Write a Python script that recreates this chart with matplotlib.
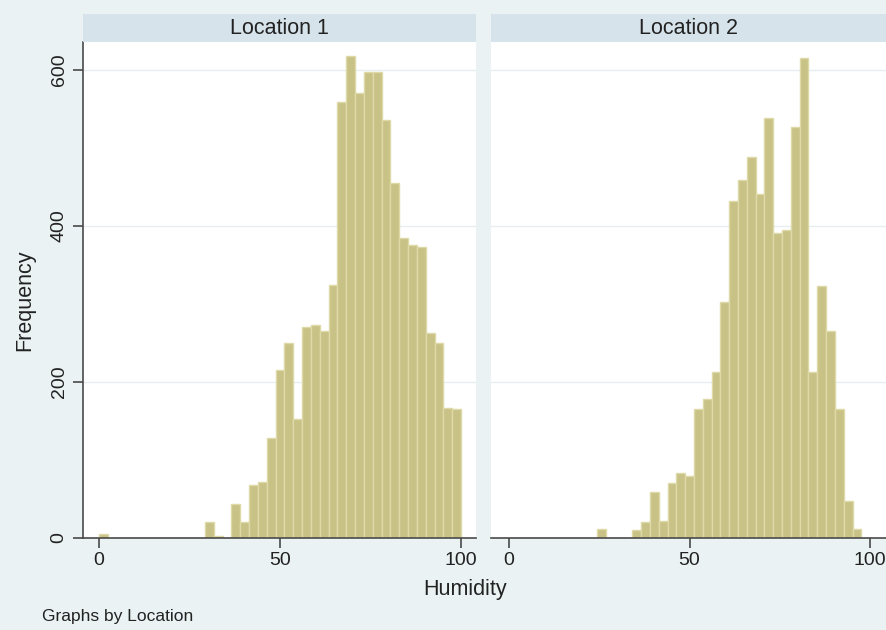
import numpy as np
import matplotlib
matplotlib.use("Agg")
import matplotlib.pyplot as plt

plt.rcParams['font.family'] = ['Liberation Sans', 'DejaVu Sans']

# histogram counts per bin, 41 equal bins over 0..100 humidity
bin_lo, bin_hi, n_bins = 0, 100, 41
loc1_counts = [5, 0, 0, 0, 0, 0, 0, 0, 0, 0,
               0, 0, 20, 3, 0, 43, 20, 68, 72, 128,
               215, 250, 153, 270, 273, 266, 325, 559, 618, 571,
               598, 598, 536, 455, 385, 376, 373, 263, 250, 167,
               165]
loc2_counts = [0, 0, 0, 0, 0, 0, 0, 0, 0, 0,
               11, 0, 0, 0, 10, 21, 59, 22, 70, 83,
               79, 166, 178, 213, 303, 432, 459, 488, 441, 539,
               391, 395, 527, 616, 213, 323, 265, 165, 47, 11,
               0]
panel_titles = ["Location 1", "Location 2"]
x_ticks = [0, 50, 100]
y_ticks = [0, 200, 400, 600]

bg = '#EAF2F3'
strip_col = '#D6E3EA'
bar_fill = '#C9C286'
bar_edge = '#DEDAA8'
axis_col = '#4A4A4A'

edges = np.linspace(bin_lo, bin_hi, n_bins + 1)
width = edges[1] - edges[0]

fig = plt.figure(figsize=(8.86, 6.3), dpi=100, facecolor=bg)

W, H = 886, 630
def frac(x0, y0, x1, y1):
    return [x0 / W, 1 - y1 / H, (x1 - x0) / W, (y1 - y0) / H]

panels = [
    (loc1_counts, frac(83, 42, 476, 538), frac(83, 14, 476, 42), (-4.4, 104.1)),
    (loc2_counts, frac(491, 42, 886, 538), frac(491, 14, 886, 42), (-5.0, 104.4)),
]

for i, (counts, pos, spos, xl) in enumerate(panels):
    ax = fig.add_axes(pos)
    ax.set_facecolor('white')
    ax.bar(edges[:-1], counts, width=width, align='edge',
           color=bar_fill, edgecolor=bar_edge, linewidth=1.0, zorder=2)
    ax.set_xlim(*xl)
    ax.set_ylim(0, 636)
    for yv in y_ticks[1:]:
        ax.axhline(yv, color='#E6EEF0', lw=1.0, zorder=1)
    for s in ['top', 'right']:
        ax.spines[s].set_visible(False)
    ax.spines['bottom'].set_color(axis_col)
    ax.spines['bottom'].set_linewidth(1.2)
    ax.set_xticks(x_ticks)
    ax.tick_params(axis='x', length=7, width=1.2, color=axis_col,
                   labelsize=14, pad=3, labelcolor='#222222')
    if i == 0:
        ax.spines['left'].set_color(axis_col)
        ax.spines['left'].set_linewidth(1.2)
        ax.set_yticks(y_ticks)
        ax.set_yticklabels([str(v) for v in y_ticks], rotation=90, va='center')
        ax.tick_params(axis='y', length=7, width=1.2, color=axis_col,
                       labelsize=14, pad=4, labelcolor='#222222')
    else:
        ax.spines['left'].set_visible(False)
        ax.set_yticks([])

    sax = fig.add_axes(spos)
    sax.set_facecolor(strip_col)
    sax.set_xticks([])
    sax.set_yticks([])
    for s in sax.spines.values():
        s.set_visible(False)
    sax.text(0.5, 0.5, panel_titles[i], ha='center', va='center',
             fontsize=15.5, color='#222222', transform=sax.transAxes)

fig.text(25 / W, 1 - 300 / H, "Frequency", rotation=90, ha='center', va='center',
         fontsize=15.5, color='#222222')
fig.text(465 / W, 1 - 590 / H, "Humidity", ha='center', va='center',
         fontsize=15.5, color='#222222')
fig.text(42 / W, 1 - 617 / H, "Graphs by Location", ha='left', va='center',
         fontsize=12.5, color='#222222')

fig.savefig("out.png", dpi=100, facecolor=bg)
